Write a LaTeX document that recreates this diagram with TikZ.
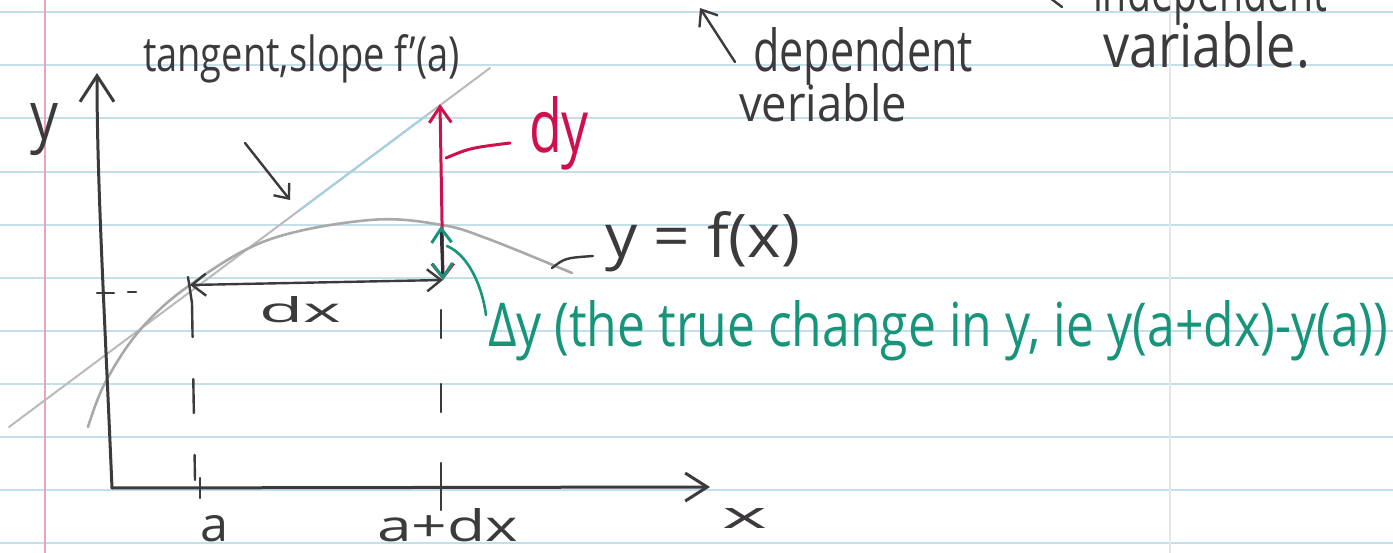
\documentclass[tikz,border=0pt]{standalone}
\usepackage{fontspec}
\setmainfont{Open Sans}
\usepackage{graphicx}
\usetikzlibrary{arrows.meta,calc}
\definecolor{ink}{HTML}{3C3A3C}
\definecolor{redink}{HTML}{D0104C}
\definecolor{greenink}{HTML}{16957A}
\definecolor{curvegray}{HTML}{A9A9A9}
\definecolor{tanblue}{HTML}{A9D0E2}
\definecolor{paperline}{HTML}{C2DFEA}
\definecolor{marginpink}{HTML}{EBA5B8}
\newcommand{\hwtext}[3]{\resizebox{#1pt}{#2pt}{#3}}
\tikzset{
  lbl/.style={inner sep=0pt, outer sep=0pt, anchor=base west, text=ink},
  inkline/.style={draw=ink, line width=3pt, line cap=round, line join=round},
  thinink/.style={draw=ink, line width=2.4pt, line cap=round, line join=round},
  paper/.style={draw=paperline, line width=1.6pt},
  barbbig/.style={-{Straight Barb[length=26pt,width=34pt]}},
  barbmid/.style={-{Straight Barb[length=22pt,width=28pt]}},
  barbsmall/.style={{Straight Barb[length=14pt,width=22pt]}-{Straight Barb[length=14pt,width=22pt]}},
}
\begin{document}
\begin{tikzpicture}[x=1pt,y=-1pt]
\useasboundingbox (0,0) rectangle (1393,553);
\clip (0,0) rectangle (1393,553);
\fill[white] (0,0) rectangle (1393,553);
% paper
\foreach \yy in {12,65,118,172,225,278,331,384,437,490,543}
  \draw[paper] (0,\yy) -- (1393,\yy);
\draw[draw=marginpink, line width=2pt] (45,0) -- (45,553);
\draw[draw=black!10, line width=1.2pt] (1170,0) -- (1170,553);

% key points
\coordinate (O) at (112,488);
\coordinate (ytop) at (97,73);
\coordinate (xtop) at (710,487);
\coordinate (P) at (190,285);
\coordinate (Q) at (443,280);
\coordinate (R) at (441,226);
\coordinate (T) at (440,104);
\coordinate (tanA) at (9,427);
\coordinate (tanB) at (490,68);

% tangent
\draw[draw=curvegray!80, line width=2pt, line cap=round] (tanA) -- (tanB);
\draw[draw=tanblue, line width=2.2pt] ($(tanA)!0.605!(tanB)$) -- ($(tanA)!0.87!(tanB)$);

% curve y=f(x)
\draw[draw=curvegray, line width=2.6pt, line cap=round] plot[smooth, tension=0.6] coordinates
  {(88,427) (105,383) (140,330) (190,285) (268,240) (370,220) (442,225) (491,240) (572,273)};

% axes
\draw[inkline, barbbig] (O) .. controls (104,300) and (97,180) .. (ytop);
\draw[inkline, barbmid] (O) -- (xtop);

% ticks
\draw[thinink] (97,293) -- (114,293);
\draw[thinink] (128,292) -- (136,292);
\draw[thinink] (200,478) -- (200,498);
\draw[thinink] (441,463) -- (441,510);
\draw[thinink] (188,277) -- (192,303);
\draw[thinink, dash pattern=on 34pt off 42pt] (192,303) -- (195,480);
\draw[thinink, dash pattern=on 28pt off 46pt] (441,310) -- (441,455);

% dx arrow
\draw[thinink, barbsmall] (P) -- (Q);

% dy arrow (red)
\draw[draw=redink, line width=3pt, line cap=round, {Straight Barb[length=14pt,width=22pt]}-{Straight Barb[length=16pt,width=22pt]}] (Q) -- (T);
% Delta y arrow
\draw[draw=ink!80!black, line width=3pt, {Straight Barb[length=14pt,width=20pt,color=greenink]}-{Straight Barb[length=14pt,width=20pt,color=greenink]}] (Q) -- (R);

% leaders
\draw[draw=redink, line width=3pt, line cap=round] (446,158) .. controls (470,148) .. (510,143);
\draw[draw=greenink, line width=2.6pt, line cap=round] (447,246) .. controls (468,255) and (482,285) .. (486,315);
\draw[thinink] (552,268) .. controls (565,258) .. (593,256);
\draw[thinink, -{Straight Barb[length=12pt,width=20pt]}] (245,143) -- (290,200);
\draw[thinink, -{Straight Barb[length=14pt,width=22pt]}] (735,62) -- (700,8);
\draw[thinink] (1050,-2) -- (1062,7);

% labels
\node[lbl] (ylab) at (30,140) {\hwtext{28}{36}{y}};
\node[lbl] (xlab) at (722,528) {\hwtext{45}{20}{x}};
\node[lbl] (alab) at (200,541) {\hwtext{28}{26}{a}};
\node[lbl] (adxlab) at (377,541) {\hwtext{141}{33}{a+dx}};
\node[lbl] (dxlab) at (259,323) {\hwtext{82}{26}{dx}};
\node[lbl] (tanlab) at (143,72) {\hwtext{317}{37}{tangent,slope f'(a)}};
\node[lbl, text=redink] (dylab) at (529,153) {\hwtext{60}{56}{dy}};
\node[lbl] (fxlab) at (605,258) {\hwtext{195}{46}{y = f(x)}};
\node[lbl, text=greenink] (dellab) at (488,347) {\hwtext{900}{46}{Δy (the true change in y, ie y(a+dx)-y(a))}};
\node[lbl] (deplab) at (753,72) {\hwtext{220}{44}{dependent}};
\node[lbl] (verlab) at (739,122) {\hwtext{168}{38}{veriable}};
\node[lbl] (varlab) at (1103,68) {\hwtext{207}{46}{variable.}};
\node[lbl] (indlab) at (1093,12) {\hwtext{234}{44}{independent}};
\end{tikzpicture}
\end{document}
